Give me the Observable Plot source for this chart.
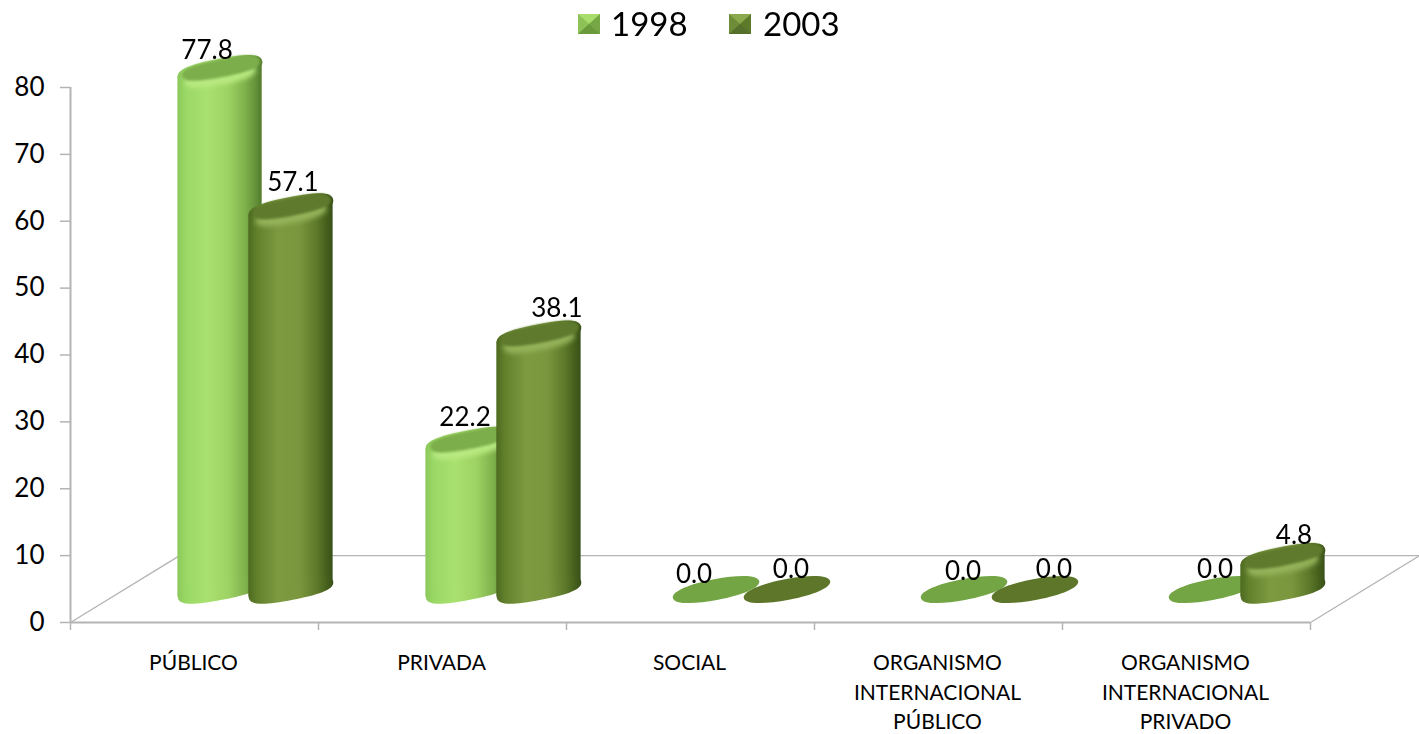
<!DOCTYPE html>
<html>
<head>
<meta charset="utf-8">
<script src="https://cdn.jsdelivr.net/npm/d3@7"></script>
<script src="https://cdn.jsdelivr.net/npm/@observablehq/plot@0.6"></script>
<style>
  html, body { margin: 0; padding: 0; background: #fff; overflow: hidden; }
  #legend { position: relative; height: 36px; font-family: Lato, sans-serif; color: #000; }
  #legend .sw { position: absolute; top: 14px; width: 0; height: 0; border-style: solid; border-width: 10px 11px; filter: blur(0.6px); }
  #legend .lb { position: absolute; top: 3px; font-size: 33px; line-height: 40px; }
  #chart svg { display: block; }
</style>
</head>
<body>
<div id="legend"></div>
<div id="chart"></div>
<script>
const categories = ["PÚBLICO", "PRIVADA", "SOCIAL", "ORGANISMO\nINTERNACIONAL\nPÚBLICO", "ORGANISMO\nINTERNACIONAL\nPRIVADO"];
const years = ["1998", "2003"];
const values1998 = [77.8, 22.2, 0, 0, 0];
const values2003 = [57.1, 38.1, 0, 0, 4.8];
const yTicks = [0, 10, 20, 30, 40, 50, 60, 70, 80];

// Layout (not data): the fake-3D lift, bar offsets in the category band, label nudges
const lift = -33;
const offsets = [0.603, 0.889];
const halfWidth = 0.17;
const tilt = 1.1;
const labelNudge = {
  1998: [[-13, -52], [-3, -56], [-22, -48], [-1, -51], [3, -53]],
  2003: [[2, -58], [18, -59], [4, -53], [19, -53], [11, -55]]
};
const styles = {
  1998: {stops: ["#8cc95c", "#9ad866", "#a9e16f", "#9dd364", "#80b14b", "#64913a", "#517c2d"], cap: "#7cae4b", flat: "#74a544", ridge: "#b9e981"},
  2003: {stops: ["#4e6a20", "#62802c", "#7d9a40", "#7b973d", "#5f7b2b", "#455f1b", "#39501a"], cap: "#5f7a2d", flat: "#5d7629", ridge: "#95b35a"}
};
const stopAt = [0, 0.1, 0.35, 0.6, 0.8, 0.93, 1];

function ellipse(a, b, k = 0.5523, deg = 11) {
  const t = deg * Math.PI / 180, c = Math.cos(t), s = Math.sin(t);
  const P = (u, v) => [a * u * c + b * v * s, -a * u * s + b * v * c];
  return {
    draw(ctx) {
      ctx.moveTo(...P(1, 0));
      ctx.bezierCurveTo(...P(1, k), ...P(k, 1), ...P(0, 1));
      ctx.bezierCurveTo(...P(-k, 1), ...P(-1, k), ...P(-1, 0));
      ctx.bezierCurveTo(...P(-1, -k), ...P(-k, -1), ...P(0, -1));
      ctx.bezierCurveTo(...P(k, -1), ...P(1, -k), ...P(1, 0));
      ctx.closePath();
    }
  };
}

const defs = () => {
  const d = d3.create("svg:defs");
  for (const yr of years) {
    const g = d.append("linearGradient").attr("id", "g" + yr).attr("x1", 0).attr("x2", 1).attr("y1", 0).attr("y2", 0);
    styles[yr].stops.forEach((col, i) => g.append("stop").attr("offset", stopAt[i]).attr("stop-color", col));
  }
  return d.node();
};

function seriesMarks(yr, vals, k) {
  const st = styles[yr], grad = `url(#g${yr})`;
  const rows = vals.map((v, i) => ({i, v, x: i + offsets[k]}));
  const solid = rows.filter(d => d.v > 0);
  const body = solid.flatMap(d => [
    {i: d.i, x: d.x - halfWidth, y1: -tilt, y2: d.v - tilt},
    {i: d.i, x: d.x + halfWidth, y1: tilt, y2: d.v + tilt}
  ]);
  return [
    Plot.areaY(body, {x: "x", y1: "y1", y2: "y2", z: "i", fill: grad, dy: lift}),
    Plot.dot(solid, {x: "x", y: 0, symbol: ellipse(43, 10.5, 0.72), fill: grad, dy: lift}),
    Plot.dot(solid, {x: "x", y: "v", symbol: ellipse(43, 10.5, 0.72), fill: grad, dy: lift}),
    Plot.dot(solid, {x: "x", y: "v", symbol: ellipse(36, 8.5, 0.7), fill: st.ridge, dy: lift + 7, imageFilter: "blur(2.5px)"}),
    Plot.dot(solid, {x: "x", y: "v", symbol: ellipse(39.5, 9, 0.72), fill: st.cap, dx: 1, dy: lift - 1, imageFilter: "blur(1px)"}),
    Plot.dot(rows.filter(d => d.v === 0), {x: "x", y: 0, symbol: ellipse(44, 10.5, 0.6), fill: st.flat, dy: lift, imageFilter: "blur(0.4px)"})
  ];
}

function labelMarks(yr, vals, k) {
  return vals.map((v, i) => Plot.text([v], {
    x: () => i + offsets[k], y: d => d, text: d => d.toFixed(1),
    dx: labelNudge[yr][i][0], dy: labelNudge[yr][i][1],
    fontSize: 26, fill: "#000"
  }));
}

const grey = "#b4b4b4";
const chart = Plot.plot({
  width: 1419, height: 698,
  marginTop: 51, marginBottom: 112, marginLeft: 70, marginRight: 109,
  style: {fontFamily: "Lato, sans-serif", background: "transparent", overflow: "visible"},
  x: {type: "linear", domain: [0, 5], range: [70, 1310], axis: null},
  y: {domain: [0, 80], axis: null},
  marks: [
    defs,
    Plot.ruleY([10], {x1: 0.44, x2: 5.44, stroke: grey, strokeWidth: 1.3}),
    Plot.link([{a: 0, b: 0.44}, {a: 5, b: 5.44}], {x1: "a", x2: "b", y1: 0, y2: 10, stroke: grey, strokeWidth: 1.3}),
    Plot.ruleY([0], {x1: 0, x2: 5, stroke: grey, strokeWidth: 2}),
    Plot.ruleX([0], {y1: 0, y2: 80, stroke: grey, strokeWidth: 2}),
    Plot.axisY({ticks: yTicks, tickSize: 10, tickPadding: 16, fontSize: 26, stroke: grey, strokeWidth: 1.5, fill: "#000", marginLeft: 70}),
    Plot.axisX({ticks: d3.range(0, 6), tickSize: 8, stroke: grey, strokeWidth: 1.5, tickFormat: () => ""}),
    Plot.axisX({ticks: categories.map((_, i) => i + 0.5), tickSize: 0, tickPadding: 27, tickFormat: d => categories[d - 0.5],
      fontSize: 21, lineHeight: 1.4, fill: "#000", lineAnchor: "top", dx: -1}),
    ...seriesMarks("1998", values1998, 0),
    ...seriesMarks("2003", values2003, 1),
    ...labelMarks("1998", values1998, 0),
    ...labelMarks("2003", values2003, 1)
  ]
});
document.getElementById("chart").appendChild(chart);

const legendItems = [
  {yr: "1998", sw: 578, lb: 611, col: ["#a8dd6c", "#76a744", "#6a9a3c", "#8cc257"]},
  {yr: "2003", sw: 729, lb: 763, col: ["#8aa84c", "#5d7a2b", "#54702a", "#6f8c38"]}
];
const lg = document.getElementById("legend");
for (const it of legendItems) {
  const s = document.createElement("div");
  s.className = "sw"; s.style.left = it.sw + "px";
  s.style.borderColor = `${it.col[0]} ${it.col[1]} ${it.col[2]} ${it.col[3]}`;
  lg.appendChild(s);
  const t = document.createElement("div");
  t.className = "lb"; t.style.left = it.lb + "px"; t.textContent = it.yr;
  lg.appendChild(t);
}
</script>
</body>
</html>
